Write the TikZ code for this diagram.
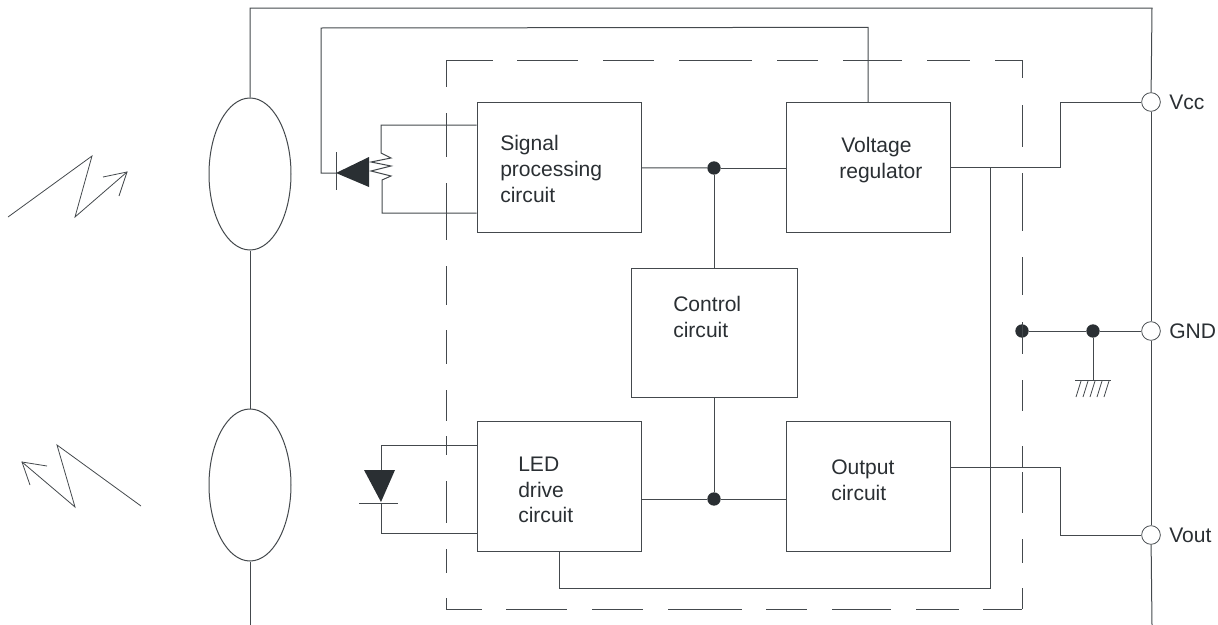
\documentclass[tikz,border=0pt]{standalone}
\usepackage{fontspec}
\setmainfont{Liberation Sans}
\usetikzlibrary{shapes,calc}
\definecolor{fg}{HTML}{2A2F33}
\definecolor{ln}{HTML}{44494D}
\tikzstyle{wire}=[draw=ln, line width=0.75pt]
\tikzstyle{thinwire}=[draw=ln, line width=0.6pt]
\tikzstyle{box}=[draw=ln, line width=0.75pt, minimum width=123pt, minimum height=97pt, inner sep=0pt]
\tikzstyle{lens}=[draw=ln, line width=0.75pt, ellipse, minimum width=61.5pt, minimum height=114pt, inner sep=0pt]
\tikzstyle{pin}=[draw=ln, line width=0.6pt, circle, minimum size=14pt, inner sep=0pt]
\tikzstyle{dot}=[fill=fg, circle, minimum size=10pt, inner sep=0pt]
\tikzstyle{txt}=[text=fg, anchor=west, align=left, inner sep=0pt, font=\fontsize{15.8}{19.2}\selectfont]

\begin{document}
\begin{tikzpicture}[x=0.75pt, y=-0.75pt]
    \useasboundingbox (0, 0) rectangle (1218, 625);

    \coordinate (TopL) at (250, 8);
    \coordinate (TopR) at (1152, 8);
    \coordinate (BotL) at (250, 625);
    \coordinate (BotR) at (1152, 625);

    \node[box] (Sig) at (559, 167.5) {};
    \node[box] (Reg) at (868, 167.5) {};
    \node[box, minimum width=124pt] (Ctl) at (714.5, 333) {};
    \node[box] (Led) at (559, 486.5) {};
    \node[box] (Out) at (868, 486.5) {};
    \node[lens] (LensA) at (250, 174) {};
    \node[lens] (LensB) at (250, 485) {};

    \node[pin] (Vcc) at (1151, 102) {};
    \node[pin] (Gnd) at (1151, 331) {};
    \node[pin] (Vout) at (1151, 535) {};
    \node[dot] (JTop) at (714, 168) {};
    \node[dot] (JBot) at (714, 499) {};
    \node[dot] (JGndA) at (1022, 331) {};
    \node[dot] (JGndB) at (1093, 331) {};

    \node[txt] (SigT) at (500, 169) {Signal\\processing\\circuit};
    \node[txt] (RegT) at (839, 160) {\hspace*{1.5pt}Voltage\\regulator};
    \node[txt] (CtlT) at (673, 317) {Control\\circuit};
    \node[txt] (LedT) at (518, 490) {LED\\drive\\circuit};
    \node[txt] (OutT) at (831, 480) {Output\\circuit};
    \node[txt] (VccT) at (1169, 102) {Vcc};
    \node[txt] (GndT) at (1169, 331) {GND};
    \node[txt] (VoutT) at (1169, 535) {Vout};

    % dashed frame
    \foreach \a/\b in {446/493, 517/578, 603/654, 679/752, 777/818, 843/902, 927/970, 995/1022} {
        \draw[wire] (\a, 60) -- (\b, 60);
    }
    \foreach \a/\b in {60/87, 113/157, 183/240, 266/305, 330/364, 390/421, 436/455, 481/523, 549/573, 598/609} {
        \draw[wire] (446, \a) -- (446, \b);
    }
    \foreach \a/\b in {60/78, 105/147, 173/231, 257/295, 322/354, 380/411, 446/468, 472/513, 539/563, 588/609} {
        \draw[wire] (1022, \a) -- (1022, \b);
    }
    \foreach \a/\b in {446/482, 506/567, 592/643, 668/742, 766/807, 832/891, 916/959, 983/1022} {
        \draw[wire] (\a, 609) -- (\b, 609);
    }

    % outer lines
    \draw[wire] (LensA.north) -- (TopL) -- (TopR) -- (Vcc);
    \draw[wire] (LensA.south) -- (LensB.north);
    \draw[wire] (LensB.south) -- (BotL);
    \draw[wire] (Vcc) -- (Gnd);
    \draw[wire] (Gnd) -- (Vout);
    \draw[wire] (Vout) -- (BotR);

    % blocks
    \draw[wire] (Sig) -- (JTop);
    \draw[wire] (JTop) -- (Reg.west |- JTop);
    \draw[wire] (JTop) -- (JTop |- Ctl.north);
    \draw[wire] (JBot |- Ctl.south) -- (JBot);
    \draw[wire] (Led.east |- JBot) -- (JBot);
    \draw[wire] (JBot) -- (Out.west |- JBot);
    \draw[wire] (Reg.east) -- ++ (110, 0) |- (Vcc);
    \draw[wire] (Reg.east) -- ++ (40, 0) -- ++ (0, 421) -| (Led.south);
    \draw[wire] (Out.east |- 0, 467) -- ++ (110, 0) |- (Vout);
    \draw[wire] (JGndA) -- (JGndB);
    \draw[wire] (JGndB) -- (Gnd);

    % photodiode and loop
    \coordinate (PdTip) at (336, 173);
    \draw[wire] (Reg.north) -- ++ (0, -75) -- (321, 28) -- (321, 173) -- (PdTip);
    \draw[wire] (336, 152) -- (336, 190);
    \fill[fg] (PdTip) -- (369, 157) -- (369, 187) -- cycle;
    \draw[wire] (Sig.west |- 0, 125) -- (381, 125) -- (381, 153) -- (391, 158) -- (371, 162) -- (391, 166) -- (371, 171) -- (391, 176) -- (382, 180) -- (382, 213) -- (Sig.west |- 0, 213);

    % LED
    \draw[wire] (Led.west |- 0, 445) -- (381, 445) -- (381, 470);
    \fill[fg] (364, 470) -- (395, 470) -- (381, 502) -- cycle;
    \draw[wire] (359, 503) -- (398, 503);
    \draw[wire] (381, 503) -- (381, 533) -- (Led.west |- 0, 533);

    % ground
    \coordinate (Earth) at (1093, 380);
    \draw[wire] (JGndB) -- (Earth);
    \draw[thinwire] (1075, 380) -- (1111, 380);
    \foreach \x in {1081, 1088, 1095, 1102, 1109} {
        \draw[thinwire] (\x, 381) -- (\x - 5, 397);
    }

    % rays
    \draw[thinwire] (8, 217) -- (92, 156) -- (75, 217) -- (127, 172);
    \draw[thinwire] (103, 177) -- (127, 172) -- (119, 196);
    \draw[thinwire] (141, 506) -- (57, 445) -- (75, 507) -- (22, 462);
    \draw[thinwire] (47, 466) -- (22, 462) -- (30, 485);
\end{tikzpicture}
\end{document}
